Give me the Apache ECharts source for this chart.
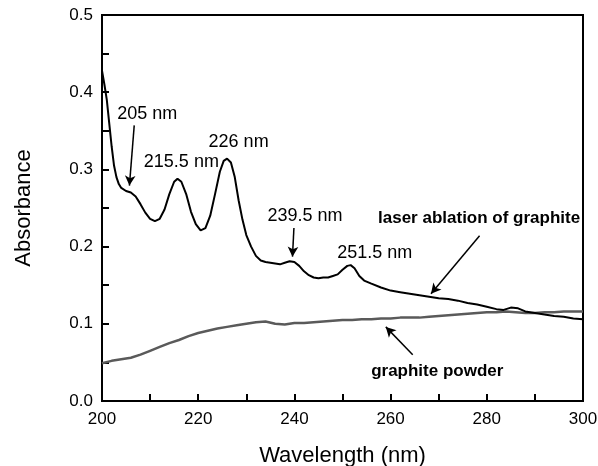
<!DOCTYPE html>
<html>
<head>
<meta charset="utf-8">
<script src="https://cdn.jsdelivr.net/npm/echarts@6/dist/echarts.min.js"></script>
<style>
  html, body { margin: 0; padding: 0; background: #fff; }
  #chart { width: 598px; height: 466px; }
</style>
</head>
<body>
<div id="chart"></div>
<script>
// laser ablation of graphite (black curve)
var laserData = [
    [200, 0.428], [200.5, 0.41], [201, 0.39], [201.5, 0.36], [202, 0.33], [202.5, 0.305],
    [203, 0.29], [203.5, 0.281], [204, 0.276], [205, 0.272], [206, 0.27], [207, 0.265],
    [208, 0.255], [209, 0.244], [210, 0.236], [211, 0.233], [212, 0.236], [213, 0.248],
    [214, 0.268], [215, 0.284], [215.7, 0.288], [216.5, 0.284], [217.5, 0.268], [218.5, 0.245],
    [219.5, 0.229], [220.5, 0.221], [221.5, 0.224], [222.5, 0.24], [223.5, 0.268], [224.5, 0.297],
    [225.3, 0.311], [226, 0.314], [226.8, 0.309], [227.6, 0.29], [228.4, 0.26], [229.2, 0.235],
    [230, 0.215], [231, 0.2], [232, 0.188], [233, 0.182], [234, 0.18], [235, 0.179],
    [236, 0.178], [237, 0.177], [238, 0.179], [239, 0.181], [240, 0.18], [241, 0.175],
    [242, 0.168], [243, 0.163], [244, 0.16], [245, 0.159], [246, 0.16], [247, 0.16],
    [248, 0.162], [249, 0.164], [250, 0.17], [251, 0.175], [251.7, 0.176], [252.5, 0.172],
    [253.5, 0.162], [254.5, 0.156], [256, 0.152], [258, 0.147], [260, 0.143], [262, 0.141],
    [264, 0.139], [266, 0.137], [268, 0.135], [270, 0.133], [272, 0.132], [274, 0.13],
    [276, 0.127], [278, 0.125], [280, 0.122], [282, 0.119], [283.5, 0.118], [285, 0.121],
    [286.5, 0.12], [288, 0.116], [290, 0.114], [292, 0.112], [294, 0.11], [296, 0.109],
    [298, 0.107], [300, 0.106]
]

// graphite powder (grey curve)
var powderData = [
    [200, 0.049], [202, 0.052], [204, 0.054], [206, 0.056], [208, 0.06], [210, 0.065],
    [212, 0.07], [214, 0.075], [216, 0.079], [218, 0.084], [220, 0.088], [222, 0.091],
    [224, 0.094], [226, 0.096], [228, 0.098], [230, 0.1], [232, 0.102], [234, 0.103],
    [236, 0.1], [238, 0.099], [240, 0.101], [242, 0.101], [244, 0.102], [246, 0.103],
    [248, 0.104], [250, 0.105], [252, 0.105], [254, 0.106], [256, 0.106], [258, 0.107],
    [260, 0.107], [262, 0.108], [264, 0.108], [266, 0.108], [268, 0.109], [270, 0.11],
    [272, 0.111], [274, 0.112], [276, 0.113], [278, 0.114], [280, 0.115], [282, 0.115],
    [284, 0.116], [286, 0.115], [288, 0.114], [290, 0.114], [292, 0.115], [294, 0.115],
    [296, 0.116], [298, 0.116], [300, 0.116]
]

// peak labels: [x, y, text]
var peakNotes = [
    [209.4, 0.372, '205 nm'],
    [216.5, 0.309, '215.5 nm'],
    [228.4, 0.335, '226 nm'],
    [242.2, 0.24, '239.5 nm'],
    [256.7, 0.192, '251.5 nm']
]
// curve names: [x, y, text]
var curveNotes = [
    [278.4, 0.236, 'laser ablation of graphite'],
    [269.7, 0.038, 'graphite powder']
]
// arrows: [fromX, fromY, toX, toY]
var arrows = [
    [206.7, 0.357, 205.7, 0.279],
    [239.9, 0.224, 239.6, 0.187],
    [278.5, 0.214, 268.4, 0.139],
    [264.6, 0.06, 259.0, 0.096]
]

var font = 'Liberation Sans'
var chart = echarts.init(document.getElementById('chart'))

function noteItems(list, bold, size) {
    return list.map(function (n) {
        return {
            value: [n[0], n[1]],
            label: {
                show: true,
                formatter: n[2],
                position: 'inside',
                color: '#000',
                fontFamily: font,
                fontSize: size,
                fontWeight: bold ? 'bold' : 'normal'
            }
        }
    })
}

var option = {
    backgroundColor: '#fff',
    animation: false,
    grid: {
        left: 102, right: 15, top: 15, bottom: 65,
        outerBoundsMode: 'none',
        containLabel: false,
        show: true, borderColor: '#000', borderWidth: 2, backgroundColor: 'transparent'
    },
    xAxis: {
        type: 'value',
        min: 200, max: 300, interval: 20,
        name: 'Wavelength (nm)',
        nameLocation: 'middle',
        nameGap: 44,
        nameTextStyle: { fontFamily: font, fontSize: 22, color: '#000' },
        axisLine: { lineStyle: { color: '#000', width: 2 } },
        axisTick: { inside: true, length: 7, lineStyle: { color: '#000', width: 2 } },
        minorTick: { show: true, splitNumber: 2, length: 7, lineStyle: { color: '#000', width: 2 } },
        axisLabel: { fontFamily: font, fontSize: 17, color: '#000', margin: 10 },
        splitLine: { show: false }
    },
    yAxis: {
        type: 'value',
        min: 0, max: 0.5, interval: 0.1,
        name: 'Absorbance',
        nameLocation: 'middle',
        nameGap: 67,
        nameTextStyle: { fontFamily: font, fontSize: 22, color: '#000' },
        axisLine: { show: true, lineStyle: { color: '#000', width: 2 } },
        axisTick: { show: true, inside: true, length: 7, lineStyle: { color: '#000', width: 2 } },
        minorTick: { show: true, splitNumber: 2, length: 7, lineStyle: { color: '#000', width: 2 } },
        axisLabel: {
            fontFamily: font, fontSize: 17, color: '#000', margin: 9,
            formatter: function (v) { return v.toFixed(1) }
        },
        splitLine: { show: false }
    },
    series: [
        {
            name: 'graphite powder',
            type: 'line',
            data: powderData,
            showSymbol: false,
            lineStyle: { color: '#5a5a5a', width: 2.5 },
            z: 2
        },
        {
            name: 'laser ablation of graphite',
            type: 'line',
            data: laserData,
            showSymbol: false,
            lineStyle: { color: '#000', width: 2 },
            z: 3,
            markLine: {
                silent: true,
                symbol: ['none', 'arrow'],
                symbolSize: [8, 10],
                lineStyle: { color: '#000', width: 1.5, type: 'solid' },
                label: { show: false },
                data: arrows.map(function (a) {
                    return [{ coord: [a[0], a[1]] }, { coord: [a[2], a[3]] }]
                })
            }
        },
        {
            name: 'notes',
            type: 'scatter',
            symbolSize: 0,
            silent: true,
            z: 5,
            itemStyle: { opacity: 1 },
            data: noteItems(peakNotes, false, 18).concat(noteItems(curveNotes, true, 17))
        }
    ]
}
chart.setOption(option)
</script>
</body>
</html>
